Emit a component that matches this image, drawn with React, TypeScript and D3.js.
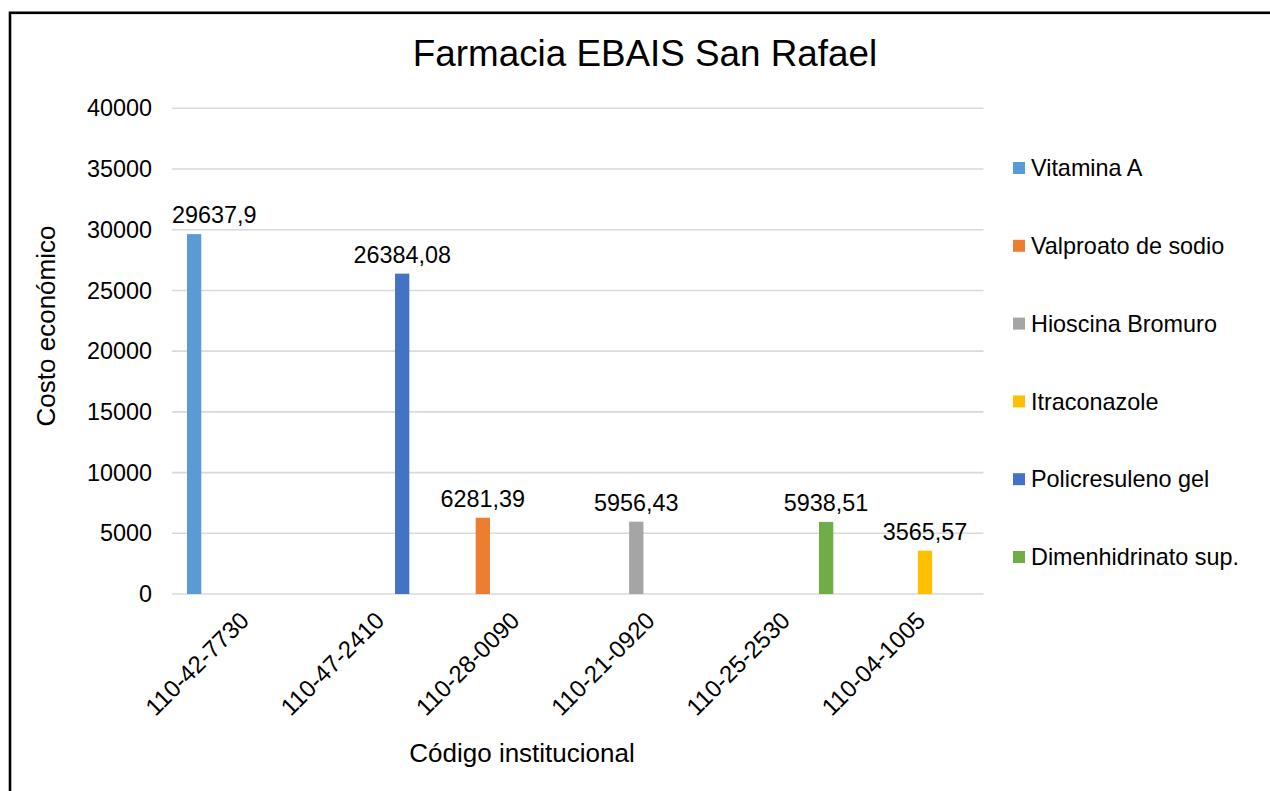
import React from "react";
import * as d3 from "d3";

const categories = ["110-42-7730", "110-47-2410", "110-28-0090", "110-21-0920", "110-25-2530", "110-04-1005"];
const seriesNames = ["Vitamina A", "Valproato de sodio", "Hioscina Bromuro", "Itraconazole", "Policresuleno gel", "Dimenhidrinato sup."];
const seriesColors = ["#5B9BD5", "#ED7D31", "#A5A5A5", "#FFC000", "#4472C4", "#70AD47"];
const vitaminaA = [29637.9, null, null, null, null, null];
const valproato = [null, null, 6281.39, null, null, null];
const hioscina = [null, null, null, 5956.43, null, null];
const itraconazole = [null, null, null, null, null, 3565.57];
const policresuleno = [null, 26384.08, null, null, null, null];
const dimenhidrinato = [null, null, null, null, 5938.51, null];
const yTicks = [0, 5000, 10000, 15000, 20000, 25000, 30000, 35000, 40000];

const seriesValues = [vitaminaA, valproato, hioscina, itraconazole, policresuleno, dimenhidrinato];

const FONT = "'Liberation Sans', Arial, sans-serif";

export default function App() {
  const left = 172, right = 983.5, top = 108.3, bottom = 594;
  const x0 = d3.scaleBand<string>().domain(categories).range([left, right]).paddingInner(0).paddingOuter(0);
  const x1 = d3.scaleBand<string>().domain(seriesNames).range([0, x0.bandwidth()]).paddingInner(0.214).paddingOuter(0.823);
  const y = d3.scaleLinear().domain([0, 40000]).range([bottom, top]);
  const labelSize = 23.4;
  const fmt = (v: number) => String(v).replace(".", ",");

  return (
    <svg width={1270} height={791} style={{ position: "absolute", left: 0, top: 0, display: "block", background: "#fff" }} fontFamily={FONT}>
      <rect x={0} y={0} width={1270} height={791} fill="#fff" />
      <rect x={10} y={12.8} width={1300} height={900} fill="none" stroke="#000" strokeWidth={2.6} />
      <text x={645} y={66} textAnchor="middle" fontSize={36.8} fill="#000">Farmacia EBAIS San Rafael</text>
      {yTicks.map((t) => (
        <g key={t}>
          <line x1={left} x2={right} y1={y(t)} y2={y(t)} stroke="#d9d9d9" strokeWidth={1.6} />
          <text x={152} y={y(t)} dy="0.35em" textAnchor="end" fontSize={labelSize} fill="#000">{t}</text>
        </g>
      ))}
      {seriesValues.map((vals, si) =>
        vals.map((v, ci) => {
          if (v == null) return null;
          const bx = (x0(categories[ci]) as number) + (x1(seriesNames[si]) as number);
          const bw = x1.bandwidth();
          const cx = bx + bw / 2;
          const label = fmt(v);
          const estW = label.length * 0.556 * labelSize - (label.includes(",") ? 0.278 * labelSize : 0);
          const clamped = cx - estW / 2 < left;
          return (
            <g key={`${si}-${ci}`}>
              <rect x={bx} y={y(v)} width={bw} height={bottom - y(v)} fill={seriesColors[si]} />
              <text x={clamped ? left : cx} y={y(v) - 11} textAnchor={clamped ? "start" : "middle"} fontSize={labelSize} fill="#000">{label}</text>
            </g>
          );
        })
      )}
      {categories.map((c) => {
        const cx = (x0(c) as number) + x0.bandwidth() / 2;
        return (
          <text key={c} transform={`translate(${cx + 5},${bottom + 22}) rotate(-45)`} textAnchor="end" dy="0.35em" fontSize={24} fill="#000">{c}</text>
        );
      })}
      <text x={522} y={762} textAnchor="middle" fontSize={26} fill="#000">Código institucional</text>
      <text transform={`translate(55,326) rotate(-90)`} textAnchor="middle" fontSize={26} fill="#000">Costo económico</text>
      {seriesNames.map((s, i) => {
        const cy = 168 + i * 77.8;
        return (
          <g key={s}>
            <rect x={1013} y={cy - 6} width={12} height={12} fill={seriesColors[i]} />
            <text x={1031} y={cy} dy="0.35em" fontSize={labelSize} fill="#000">{s}</text>
          </g>
        );
      })}
    </svg>
  );
}
